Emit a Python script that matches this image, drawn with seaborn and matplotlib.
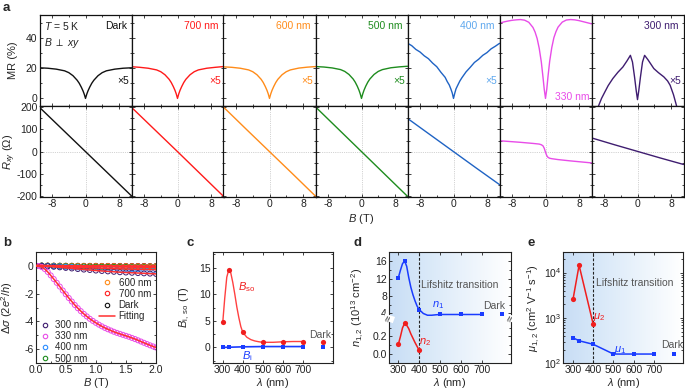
import matplotlib
matplotlib.use("Agg")
import matplotlib.pyplot as plt
import matplotlib.ticker as mticker
from matplotlib.colors import LinearSegmentedColormap
from matplotlib.lines import Line2D
import numpy as np
import seaborn as sns

W, H = 685, 390

# ---------------- panel a : MR (x5 where marked) and Rxy vs B ----------------
a_names = ['Dark', '700 nm', '600 nm', '500 nm', '400 nm', '330 nm', '300 nm']
a_line_colors = ['#111111', '#ff1a1a', '#ff8c1a', '#1e8c1e', '#1f63c4', '#e84ce8', '#3f1d70']
a_text_colors = ['#111111', '#ff1a1a', '#ff8c1a', '#1e8c1e', '#5fa8ee', '#e84ce8', '#3f1d70']
a_times5 = [True, True, True, True, True, False, True]

mr_b = [-11, -9, -7, -5, -4, -3, -2, -1.5, -1, -0.6, -0.3, 0, 0.3, 0.6, 1, 1.5, 2, 3, 4, 5, 7, 9, 11]
mr_dark = [20.2, 19.9, 19.3, 18.2, 17.0, 15.0, 12.0, 10.0, 7.4, 5.0, 2.8, 0, 2.8, 5.0, 7.4, 10.0, 12.0, 15.0, 17.0, 18.2, 19.3, 19.9, 20.2]
mr_700 = [20.9, 20.5, 19.9, 18.8, 17.6, 15.6, 12.6, 10.5, 7.8, 5.3, 3.0, 0, 3.0, 5.3, 7.8, 10.5, 12.6, 15.6, 17.6, 18.8, 19.9, 20.5, 21.0]
mr_600 = [20.8, 20.5, 19.9, 18.8, 17.6, 15.6, 12.6, 10.5, 7.8, 5.3, 3.0, 0, 3.0, 5.3, 7.8, 10.5, 12.6, 15.6, 17.6, 18.8, 20.0, 20.6, 21.0]
mr_500 = [21.0, 20.7, 20.1, 19.0, 17.8, 15.8, 12.8, 10.7, 8.0, 5.4, 3.0, 0, 3.0, 5.4, 8.0, 10.7, 12.8, 15.8, 17.8, 19.0, 20.2, 20.8, 21.2]

mr_b400 = [-11, -10, -9, -8, -7, -6, -5, -4, -3, -2, -1.5, -1, -0.6, -0.3, 0,
           0.3, 0.6, 1, 1.5, 2, 3, 4, 5, 6, 7, 8, 9, 10, 11]
mr_400 = [36.4, 34.8, 32.3, 30.6, 28.1, 26.2, 23.3, 20.9, 17.2, 13.9, 11.1, 8.8, 6.0, 3.6, 0,
          3.4, 6.3, 8.6, 11.4, 13.6, 17.5, 20.5, 23.7, 25.8, 28.4, 30.2, 32.7, 34.4, 36.3]

mr_b330 = [-11, -10, -9, -8, -7, -6, -5, -4, -3, -2.5, -2, -1.5, -1, -0.6, -0.3, 0,
           0.3, 0.6, 1, 1.5, 2, 2.5, 3, 4, 5, 6, 7, 8, 9, 10, 11]
mr_330 = [49.6, 50.4, 51.0, 51.5, 51.8, 52.0, 51.6, 50.2, 46.8, 43.8, 39.5, 33.0, 24.0, 14.0, 6.0, 0,
          6.0, 14.5, 24.5, 33.5, 40.0, 44.0, 47.0, 50.3, 51.7, 52.0, 51.8, 51.3, 50.6, 49.9, 49.2]

mr_b300 = [-10.2, -9.4, -8.6, -7.8, -7, -5.9, -4.7, -3.5, -2.5, -1.7, -1.2, -0.7, -0.3, 0,
           0.3, 0.7, 1.2, 1.7, 2.5, 3.9, 5, 6.3, 7.2, 7.8, 8.6, 9.4, 10.2]
mr_300 = [-12, -5.5, 0.0, 4.3, 8.5, 13.1, 17.2, 20.7, 24.8, 28.4, 24.0, 14.0, 5.0, -0.8,
          5.0, 14.0, 24.0, 28.4, 25.5, 19.7, 17.0, 14.2, 11.5, 8.7, 2.5, -5.5, -12]

rxy_b = [-11, -5.5, 0, 5.5, 11]
rxy_dark = [200, 100, 0, -100, -200]
rxy_700 = [200, 100, 0, -101, -202]
rxy_600 = [201, 100, 0, -100, -201]
rxy_500 = [202, 101, 0, -101, -202]
rxy_400 = [150, 75, 0, -75, -149]
rxy_300 = [62, 31, 1, -29, -58]
rxy_b330 = [-11, -6, -3, -1.5, -1, -0.6, -0.3, 0, 0.3, 0.6, 1, 1.5, 3, 6, 11]
rxy_330 = [49, 42, 37, 34, 31, 26, 15, -3, -18, -26, -30, -32, -36, -42, -51]

mr_sets = [(mr_b, mr_dark), (mr_b, mr_700), (mr_b, mr_600), (mr_b, mr_500),
           (mr_b400, mr_400), (mr_b330, mr_330), (mr_b300, mr_300)]
rxy_sets = [(rxy_b, rxy_dark), (rxy_b, rxy_700), (rxy_b, rxy_600), (rxy_b, rxy_500),
            (rxy_b, rxy_400), (rxy_b330, rxy_330), (rxy_b, rxy_300)]

# ---------------- panel b : delta sigma vs B ----------------
sig_b330 = [0, .05, .1, .15, .2, .25, .3, .35, .4, .45, .5, .55, .6, .65, .7, .75, .8, .85, .9, .95,
            1.0, 1.05, 1.1, 1.15, 1.2, 1.25, 1.3, 1.35, 1.4, 1.45, 1.5, 1.55, 1.6, 1.65, 1.7, 1.75,
            1.8, 1.85, 1.9, 1.95, 2.0]
sig_330 = [0, -.03, -.1, -.24, -.45, -.7, -.96, -1.23, -1.5, -1.78, -2.05, -2.32, -2.57, -2.82,
           -3.05, -3.26, -3.46, -3.64, -3.81, -3.96, -4.1, -4.23, -4.35, -4.46, -4.56, -4.65,
           -4.74, -4.82, -4.89, -4.96, -5.03, -5.1, -5.18, -5.26, -5.35, -5.44, -5.53, -5.62,
           -5.71, -5.79, -5.87]
sig_b = [0, .1, .2, .3, .4, .5, .6, .7, .8, .9, 1.0, 1.1, 1.2, 1.3, 1.4, 1.5, 1.6, 1.7, 1.8, 1.9, 2.0]
sig_300 = [0, -.01, -.04, -.08, -.12, -.16, -.2, -.24, -.28, -.31, -.35, -.38, -.41, -.44, -.47,
           -.49, -.51, -.53, -.55, -.57, -.59]
sig_400 = [0, -.005, -.02, -.04, -.06, -.08, -.1, -.12, -.14, -.16, -.17, -.19, -.2, -.22, -.23,
           -.24, -.25, -.26, -.27, -.28, -.29]
sig_500 = [0, 0, -.01, -.02, -.03, -.04, -.05, -.06, -.06, -.07, -.08, -.08, -.09, -.09, -.1,
           -.1, -.11, -.11, -.11, -.12, -.12]
sig_600 = [0, 0, -.005, -.01, -.015, -.02, -.025, -.03, -.03, -.035, -.04, -.04, -.045, -.045,
           -.05, -.05, -.055, -.055, -.06, -.06, -.06]
sig_700 = [0, 0, -.005, -.01, -.015, -.02, -.02, -.025, -.03, -.03, -.035, -.035, -.04, -.04,
           -.045, -.045, -.05, -.05, -.05, -.055, -.055]
sig_dark = [0, 0, 0, -.005, -.005, -.01, -.01, -.01, -.015, -.015, -.015, -.02, -.02, -.02,
            -.02, -.025, -.025, -.025, -.025, -.03, -.03]

# ---------------- panels c, d, e ----------------
lam = [300, 330, 400, 500, 600, 700]
lam_dark = [800]
bso = [4.7, 14.6, 2.8, 1.0, 1.1, 1.1]
bso_dark = [1.1]
bi = [0.0, 0.02, 0.1, 0.15, 0.15, 0.15]
bi_dark = [0.15]
bso_curve_lam = [300, 310, 320, 330, 340, 350, 360, 370, 380, 390, 400, 420, 440, 460, 480, 500, 550, 600, 650, 700]
bso_curve = [4.7, 9.3, 13.2, 14.6, 14.0, 12.2, 10.0, 7.6, 5.6, 3.9, 2.8, 1.9, 1.45, 1.2, 1.05, 0.95, 0.95, 1.05, 1.1, 1.1]

n1 = [12.2, 16.0, 4.9, 3.77, 3.77, 3.77]
n1_dark = [3.77]
n1_curve_lam = [300, 310, 320, 330, 340, 350, 360, 370, 380, 390, 400, 420, 440, 460, 480, 500, 600, 700]
n1_curve = [12.2, 13.9, 15.4, 16.0, 14.8, 12.2, 10.0, 8.3, 6.9, 5.7, 4.9, 4.0, 3.6, 3.6, 3.7, 3.77, 3.77, 3.77]
lam_n2 = [300, 330, 400]
n2 = [0.11, 0.35, 0.04]
n2_curve_lam = [300, 310, 320, 330, 340, 350, 360, 370, 380, 390, 400]
n2_curve = [0.11, 0.2, 0.3, 0.35, 0.33, 0.29, 0.23, 0.18, 0.13, 0.085, 0.04]

mu1 = [365, 314, 262, 160, 160, 160]
mu1_dark = [160]
mu2 = [2570, 14500, 720]

RED = '#f01e1e'
BLUE = '#1a3cff'
GRAY = '#555555'

sns.set_theme(style='ticks')
plt.rcParams['font.family'] = ['Liberation Sans', 'DejaVu Sans']
plt.rcParams['mathtext.fontset'] = 'custom'
plt.rcParams['mathtext.rm'] = 'Liberation Sans'
plt.rcParams['mathtext.it'] = 'Liberation Sans:italic'
plt.rcParams['mathtext.bf'] = 'Liberation Sans:bold'
plt.rcParams['axes.linewidth'] = 0.8
plt.rcParams['axes.edgecolor'] = '#222222'
plt.rcParams['axes.unicode_minus'] = False

FS = 7.5
fig = plt.figure(figsize=(W / 100, H / 100), dpi=100)


def px_axes(l, t, r, b, **kw):
    return fig.add_axes([l / W, 1 - b / H, (r - l) / W, (b - t) / H], **kw)


def style(ax, top=True, right=True):
    ax.tick_params(which='both', direction='in', top=top, right=right, width=0.6,
                   labelsize=FS, pad=1.5, colors='#222222', labelcolor='#222222')
    ax.tick_params(which='major', length=2.5)
    ax.tick_params(which='minor', length=1.5)


# ---------- panel a ----------
pw = 92.0
x0 = 39.5
for i in range(7):
    l = x0 + i * pw
    axt = px_axes(l, 15, l + pw, 106)
    axb = px_axes(l, 106, l + pw, 197)
    c = a_line_colors[i]
    bx, by = mr_sets[i]
    sns.lineplot(x=bx, y=by, ax=axt, color=c, lw=1.0, estimator=None, sort=False)
    rx, ry = rxy_sets[i]
    axb.axhline(0, color='#aaaaaa', lw=0.5, ls=':', zorder=0)
    axb.axvline(0, color='#aaaaaa', lw=0.5, ls=':', zorder=0)
    sns.lineplot(x=rx, y=ry, ax=axb, color=c, lw=1.0, estimator=None, sort=False)
    for ax in (axt, axb):
        ax.set_xlim(-11, 11)
        ax.xaxis.set_major_locator(mticker.FixedLocator([-8, 0, 8]))
        ax.xaxis.set_minor_locator(mticker.FixedLocator([-4, 4]))
        ax.set_xlabel('')
        ax.set_ylabel('')
        style(ax)
        for s in ax.spines.values():
            s.set_linewidth(0.9)
            s.set_color('#111111')
    axt.set_ylim(-5, 55)
    axt.yaxis.set_major_locator(mticker.FixedLocator([0, 20, 40]))
    axt.yaxis.set_minor_locator(mticker.FixedLocator([10, 30, 50]))
    axt.tick_params(labelbottom=False)
    axb.set_ylim(-205, 206)
    axb.yaxis.set_major_locator(mticker.MultipleLocator(100))
    axb.yaxis.set_minor_locator(mticker.MultipleLocator(50))
    if i == 0:
        axt.set_ylabel('MR (%)', fontsize=8)
        axb.set_ylabel(r'$R_{xy}$ ($\Omega$)', fontsize=8)
        axt.yaxis.set_label_coords(-0.235, 0.5)
        axb.yaxis.set_label_coords(-0.235, 0.5)
        axt.text(0.045, 0.88, r'$T$ = 5 K', transform=axt.transAxes, fontsize=FS,
                 va='center', ha='left', color='#222222')
        axt.text(0.045, 0.69, r'$B$ $\perp$ $xy$', transform=axt.transAxes, fontsize=FS,
                 va='center', ha='left', color='#222222')
    else:
        axt.tick_params(labelleft=False)
        axb.tick_params(labelleft=False)
    if i == 5:
        axt.text(0.98, 0.1, a_names[i], transform=axt.transAxes, fontsize=FS,
                 color=a_text_colors[i], ha='right', va='center')
    else:
        axt.text(0.95, 0.88, a_names[i], transform=axt.transAxes, fontsize=FS,
                 color=a_text_colors[i], ha='right', va='center')
    if a_times5[i]:
        axt.text(0.97, 0.27, '\u00d75', transform=axt.transAxes, fontsize=FS,
                 color=a_text_colors[i], ha='right', va='center')

fig.text(361 / W, 1 - 219 / H, r'$B$ (T)', fontsize=8, ha='center', va='center')

# ---------- panel b ----------
axb_ = px_axes(35.7, 251.7, 156, 363.3)
b_sets = [(sig_b, sig_dark, '#111111'), (sig_b, sig_700, '#ff2020'), (sig_b, sig_600, '#ff8c1a'),
          (sig_b, sig_500, '#1e8c1e'), (sig_b, sig_400, '#2a8cff'), (sig_b, sig_300, '#3f1d70'),
          (sig_b330, sig_330, '#e84ce8')]
for bx, by, c in b_sets:
    sns.scatterplot(x=bx, y=by, ax=axb_, color=c, facecolor='none', edgecolor=c,
                    linewidth=0.7, s=13, marker='o', zorder=2)
for bx, by, c in b_sets:
    sns.lineplot(x=bx, y=by, ax=axb_, color='#ff3030', lw=1.1, estimator=None, sort=False, zorder=3)
axb_.set_xlim(0, 2)
axb_.set_ylim(-7, 1)
axb_.xaxis.set_major_locator(mticker.MultipleLocator(0.5))
axb_.xaxis.set_minor_locator(mticker.MultipleLocator(0.25))
axb_.yaxis.set_major_locator(mticker.MultipleLocator(2))
axb_.yaxis.set_minor_locator(mticker.MultipleLocator(1))
axb_.xaxis.set_major_formatter(mticker.FormatStrFormatter('%.1f'))
style(axb_)
axb_.set_xlabel(r'$B$ (T)', fontsize=8, labelpad=0.5)
axb_.set_ylabel(r'$\Delta\sigma$ (2$e^2$/$h$)', fontsize=8)
axb_.yaxis.set_label_coords(-0.17, 0.5)


def hnd(c, label):
    return Line2D([], [], ls='none', marker='o', ms=3.2, mfc='none', mec=c, mew=0.8, label=label)


leg1 = axb_.legend(handles=[hnd('#ff8c1a', '600 nm'), hnd('#ff2020', '700 nm'), hnd('#111111', 'Dark'),
                            Line2D([], [], color='#ff3030', lw=1.1, label='Fitting')],
                   loc='upper left', bbox_to_anchor=(0.48, 0.82), frameon=False, fontsize=7,
                   handlelength=1.6, handletextpad=0.4, labelspacing=0.12, borderpad=0.1)
axb_.add_artist(leg1)
axb_.legend(handles=[hnd('#3f1d70', '300 nm'), hnd('#e84ce8', '330 nm'), hnd('#2a8cff', '400 nm'),
                     hnd('#1e8c1e', '500 nm')],
            loc='upper left', bbox_to_anchor=(-0.02, 0.44), frameon=False, fontsize=7,
            handlelength=1.2, handletextpad=0.4, labelspacing=0.12, borderpad=0.1)

# ---------- panel c ----------
axc = px_axes(212.7, 251.7, 333.3, 363.3)
sns.lineplot(x=bso_curve_lam, y=bso_curve, ax=axc, color='#ff4040', lw=1.0, estimator=None, sort=False)
sns.lineplot(x=lam, y=bi, ax=axc, color=BLUE, lw=1.2, estimator=None, sort=False)
sns.scatterplot(x=lam + lam_dark, y=bso + bso_dark, ax=axc, color=RED, marker='o', s=14, linewidth=0, zorder=3)
sns.scatterplot(x=lam + lam_dark, y=bi + bi_dark, ax=axc, color=BLUE, marker='s', s=12, linewidth=0, zorder=3)
axc.set_xlim(250, 850)
axc.set_ylim(-3, 18)
axc.xaxis.set_major_locator(mticker.FixedLocator([300, 400, 500, 600, 700]))
axc.yaxis.set_major_locator(mticker.MultipleLocator(5))
axc.yaxis.set_minor_locator(mticker.MultipleLocator(2.5))
style(axc)
axc.set_xlabel(r'$\lambda$ (nm)', fontsize=8, labelpad=0.5)
axc.set_ylabel(r'$B_{\mathrm{i,\ so}}$ (T)', fontsize=8)
axc.yaxis.set_label_coords(-0.17, 0.5)
axc.text(420, 11.3, r'$B_{\mathrm{so}}$', color=RED, fontsize=8, ha='center', va='center')
axc.text(420, -1.7, r'$B_{\mathrm{i}}$', color=BLUE, fontsize=8, ha='center', va='center')
axc.text(783, 2.4, 'Dark', color=GRAY, fontsize=FS, ha='center', va='center')

# ---------- gradient background for d, e ----------
grad_cmap = LinearSegmentedColormap.from_list('g', [(0, '#c8ddf5'), (0.26, '#d6e7f8'), (1, '#ffffff')])
grad = np.linspace(0, 1, 256)[None, :]


def backdrop(l, t, r, b):
    bg = px_axes(l, t, r, b, zorder=-5)
    bg.imshow(grad, cmap=grad_cmap, aspect='auto', extent=[0, 1, 0, 1], vmin=0, vmax=1)
    bg.set_axis_off()


# ---------- panel d ----------
backdrop(389, 252.3, 510.7, 363.3)
axd1 = px_axes(389, 252.3, 510.7, 318.3)
axd2 = px_axes(389, 318.3, 510.7, 363.3)
for ax in (axd1, axd2):
    ax.patch.set_alpha(0)
    ax.axvline(400, color='#222222', lw=0.8, ls=(0, (2.5, 1.5)), zorder=1)
sns.lineplot(x=n1_curve_lam, y=n1_curve, ax=axd1, color=BLUE, lw=1.1, estimator=None, sort=False)
sns.scatterplot(x=lam + lam_dark, y=n1 + n1_dark, ax=axd1, color=BLUE, marker='s', s=12, linewidth=0, zorder=3)
sns.lineplot(x=n2_curve_lam, y=n2_curve, ax=axd2, color=RED, lw=1.1, estimator=None, sort=False)
sns.scatterplot(x=lam_n2, y=n2, ax=axd2, color=RED, marker='o', s=14, linewidth=0, zorder=3)
axd1.set_ylim(2.9, 18)
axd2.set_ylim(-0.11, 0.41)
for ax in (axd1, axd2):
    ax.set_xlim(255, 840)
    ax.xaxis.set_major_locator(mticker.FixedLocator([300, 400, 500, 600, 700]))
    ax.set_xlabel('')
    ax.set_ylabel('')
axd1.yaxis.set_major_locator(mticker.FixedLocator([4, 8, 12, 16]))
axd1.yaxis.set_minor_locator(mticker.FixedLocator([6, 10, 14]))
axd2.yaxis.set_major_locator(mticker.FixedLocator([0.0, 0.2]))
axd2.yaxis.set_minor_locator(mticker.FixedLocator([0.1, 0.3]))
axd2.yaxis.set_major_formatter(mticker.FormatStrFormatter('%.1f'))
style(axd1)
style(axd2)
axd1.tick_params(which='both', bottom=False, labelbottom=False)
axd2.tick_params(which='both', top=False)
axd1.spines['bottom'].set_visible(False)
axd2.spines['top'].set_visible(False)
axd2.set_xlabel(r'$\lambda$ (nm)', fontsize=8, labelpad=0.5)
fig.text(358 / W, 1 - 307.8 / H, r'$n_{1,2}$ (10$^{13}$ cm$^{-2}$)', fontsize=8,
         rotation=90, ha='center', va='center')
for xb in (389, 510.7):
    fig.text(xb / W, 1 - 318.3 / H, '\u2248', fontsize=8, rotation=70, ha='center', va='center',
             color='#222222', bbox=dict(boxstyle='square,pad=0.02', fc='white', ec='none'))
axd1.text(411, 10.5, 'Lifshitz transition', color=GRAY, fontsize=FS, ha='left', va='center')
axd1.text(490, 5.9, r'$n_1$', color=BLUE, fontsize=8, ha='center', va='center')
axd1.text(760, 5.7, 'Dark', color=GRAY, fontsize=FS, ha='center', va='center')
axd2.text(428, 0.13, r'$n_2$', color=RED, fontsize=8, ha='center', va='center')

# ---------- panel e ----------
backdrop(563.3, 252.3, 683.3, 363.3)
axe = px_axes(563.3, 252.3, 683.3, 363.3)
axe.patch.set_alpha(0)
axe.set_yscale('log')
axe.axvline(400, color='#222222', lw=0.8, ls=(0, (2.5, 1.5)), zorder=1)
sns.lineplot(x=lam[:3], y=mu2, ax=axe, color=RED, lw=1.1, estimator=None, sort=False)
sns.lineplot(x=lam, y=mu1, ax=axe, color=BLUE, lw=1.1, estimator=None, sort=False)
sns.scatterplot(x=lam[:3], y=mu2, ax=axe, color=RED, marker='o', s=14, linewidth=0, zorder=3)
sns.scatterplot(x=lam + lam_dark, y=mu1 + mu1_dark, ax=axe, color=BLUE, marker='s', s=12, linewidth=0, zorder=3)
axe.set_xlim(252, 845)
axe.set_ylim(100, 28000)
axe.xaxis.set_major_locator(mticker.FixedLocator([300, 400, 500, 600, 700]))
style(axe)
axe.set_xlabel(r'$\lambda$ (nm)', fontsize=8, labelpad=0.5)
axe.set_ylabel(r'$\mu_{1,2}$ (cm$^2$ V$^{-1}$ s$^{-1}$)', fontsize=8)
axe.yaxis.set_label_coords(-0.18, 0.5)
axe.text(416, 10 ** 3.77, 'Lifshitz transition', color=GRAY, fontsize=FS, ha='left', va='center')
axe.text(430, 10 ** 3.03, r'$\mu_2$', color=RED, fontsize=8, ha='center', va='center')
axe.text(535, 10 ** 2.3, r'$\mu_1$', color=BLUE, fontsize=8, ha='center', va='center')
axe.text(790, 10 ** 2.4, 'Dark', color=GRAY, fontsize=FS, ha='center', va='center')

# panel letters
for lab, (px, py) in zip('abcde', [(6, 8), (6.7, 243.3), (190, 243.3), (357, 243.3), (531, 243.3)]):
    fig.text(px / W, 1 - py / H, lab, fontsize=9.5, fontweight='bold', ha='center', va='center')

fig.savefig('out.png', dpi=100)
